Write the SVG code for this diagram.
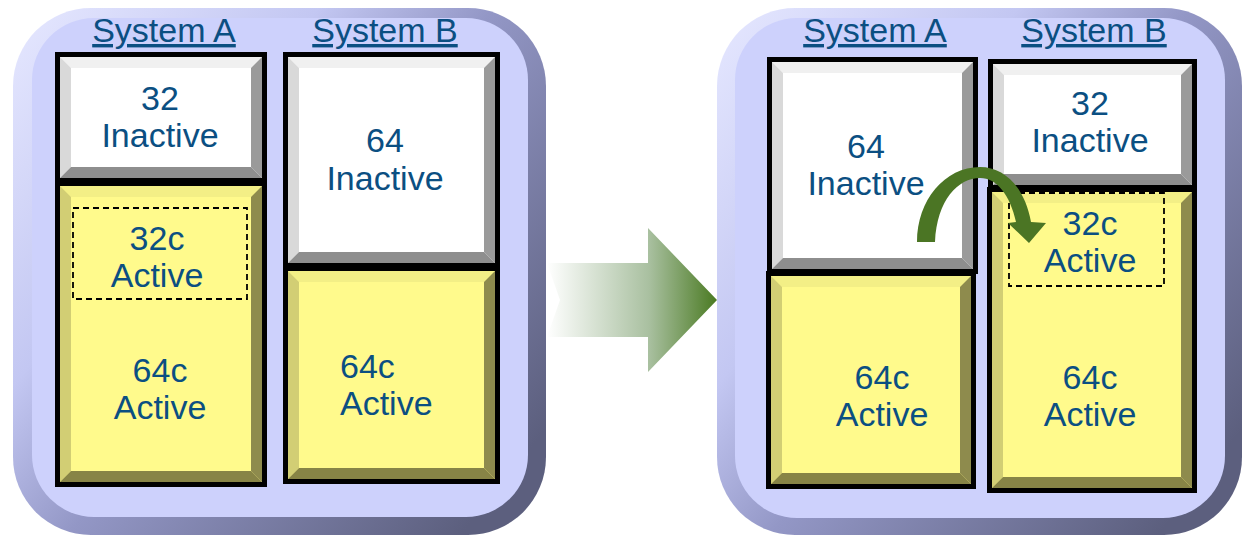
<svg xmlns="http://www.w3.org/2000/svg" width="1247" height="539" viewBox="0 0 1247 539">
  <defs>
    <linearGradient id="rimGrad" x1="0" y1="0" x2="1" y2="0.8">
      <stop offset="0" stop-color="#e6e8ff"/>
      <stop offset="0.35" stop-color="#c3c7f2"/>
      <stop offset="0.55" stop-color="#9397c6"/>
      <stop offset="1" stop-color="#5c5f7e"/>
    </linearGradient>
    <linearGradient id="moveGrad" x1="547" y1="0" x2="717" y2="0" gradientUnits="userSpaceOnUse">
      <stop offset="0" stop-color="#ffffff"/>
      <stop offset="0.6" stop-color="#a9c0a0"/>
      <stop offset="1" stop-color="#4a7a22"/>
    </linearGradient>
    <style>
      .rim { fill: url(#rimGrad); }
      .face { fill: #cdd1fc; }
      .frame { fill: #000000; }
      .w-face { fill: #ffffff; }
      .w-top { fill: #f0f0f0; }
      .w-left { fill: #d9d9d9; }
      .w-right { fill: #9a9a9a; }
      .w-bottom { fill: #8e8e8e; }
      .y-face { fill: #fffa8c; }
      .y-top { fill: #f3ef86; }
      .y-left { fill: #d2ce74; }
      .y-right { fill: #8e8b4d; }
      .y-bottom { fill: #878446; }
      .dash { fill: none; stroke: #000000; stroke-width: 1.8; stroke-dasharray: 6 4; }
      .lbl { font-family: "Liberation Sans", Arial, sans-serif; font-size: 34px; fill: #0b4f82; text-anchor: middle; }
      .lbl-start { text-anchor: start; }
      .hdr { text-decoration: underline; }
    </style>
  </defs>

  <!-- panels -->
  <g id="panel-before">
    <rect class="rim" x="13" y="8" width="533" height="527" rx="78" ry="78"/>
    <rect class="face" x="32" y="18" width="496" height="499" rx="62" ry="62"/>
  </g>
  <g id="panel-after">
    <rect class="rim" x="717" y="8" width="525" height="527" rx="78" ry="78"/>
    <rect class="face" x="735" y="18" width="490" height="500" rx="62" ry="62"/>
  </g>

  <!-- column headers -->
  <g id="headers">
    <text class="lbl hdr" x="164" y="42">System A</text>
    <text class="lbl hdr" x="385" y="42">System B</text>
    <text class="lbl hdr" x="875" y="42">System A</text>
    <text class="lbl hdr" x="1094" y="42">System B</text>
  </g>

  <!-- before: System A, 64c active partition -->
  <g id="before-a-64c">
    <rect class="frame" x="55" y="181" width="212" height="306"/>
    <rect class="y-face" x="60" y="186" width="202" height="296"/>
    <polygon class="y-top" points="60,186 262,186 251,197 71,197"/>
    <polygon class="y-left" points="60,186 71,197 71,471 60,482"/>
    <polygon class="y-right" points="262,186 262,482 251,471 251,197"/>
    <polygon class="y-bottom" points="60,482 262,482 251,471 71,471"/>
    <text class="lbl" x="160" y="382">64c</text>
    <text class="lbl" x="160" y="419">Active</text>
  </g>
  <g id="before-a-32c">
    <rect class="dash" x="73" y="208" width="174" height="91"/>
    <text class="lbl" x="157" y="250">32c</text>
    <text class="lbl" x="157" y="287">Active</text>
  </g>
  <g id="before-a-32">
    <rect class="frame" x="55" y="52" width="212" height="131"/>
    <rect class="w-face" x="60" y="57" width="202" height="121"/>
    <polygon class="w-top" points="60,57 262,57 251,68 71,68"/>
    <polygon class="w-left" points="60,57 71,68 71,167 60,178"/>
    <polygon class="w-right" points="262,57 262,178 251,167 251,68"/>
    <polygon class="w-bottom" points="60,178 262,178 251,167 71,167"/>
    <text class="lbl" x="160" y="110">32</text>
    <text class="lbl" x="160" y="147">Inactive</text>
  </g>

  <!-- before: System B -->
  <g id="before-b-64c">
    <rect class="frame" x="283" y="266" width="217" height="218"/>
    <rect class="y-face" x="288" y="271" width="207" height="208"/>
    <polygon class="y-top" points="288,271 495,271 484,282 299,282"/>
    <polygon class="y-left" points="288,271 299,282 299,468 288,479"/>
    <polygon class="y-right" points="495,271 495,479 484,468 484,282"/>
    <polygon class="y-bottom" points="288,479 495,479 484,468 299,468"/>
    <text class="lbl lbl-start" x="340" y="378">64c</text>
    <text class="lbl lbl-start" x="340" y="415">Active</text>
  </g>
  <g id="before-b-64">
    <rect class="frame" x="283" y="52" width="217" height="216"/>
    <rect class="w-face" x="288" y="57" width="207" height="206"/>
    <polygon class="w-top" points="288,57 495,57 484,68 299,68"/>
    <polygon class="w-left" points="288,57 299,68 299,252 288,263"/>
    <polygon class="w-right" points="495,57 495,263 484,252 484,68"/>
    <polygon class="w-bottom" points="288,263 495,263 484,252 299,252"/>
    <text class="lbl" x="385" y="152">64</text>
    <text class="lbl" x="385" y="190">Inactive</text>
  </g>

  <!-- after: System A -->
  <g id="after-a-64c">
    <rect class="frame" x="766" y="271" width="210" height="218"/>
    <rect class="y-face" x="771" y="276" width="200" height="208"/>
    <polygon class="y-top" points="771,276 971,276 960,287 782,287"/>
    <polygon class="y-left" points="771,276 782,287 782,473 771,484"/>
    <polygon class="y-right" points="971,276 971,484 960,473 960,287"/>
    <polygon class="y-bottom" points="771,484 971,484 960,473 782,473"/>
    <text class="lbl" x="882" y="389">64c</text>
    <text class="lbl" x="882" y="426">Active</text>
  </g>
  <g id="after-a-64">
    <rect class="frame" x="767" y="57" width="211" height="217"/>
    <rect class="w-face" x="772" y="62" width="201" height="207"/>
    <polygon class="w-top" points="772,62 973,62 962,73 783,73"/>
    <polygon class="w-left" points="772,62 783,73 783,258 772,269"/>
    <polygon class="w-right" points="973,62 973,269 962,258 962,73"/>
    <polygon class="w-bottom" points="772,269 973,269 962,258 783,258"/>
    <text class="lbl" x="866" y="158">64</text>
    <text class="lbl" x="866" y="195">Inactive</text>
  </g>

  <!-- after: System B -->
  <g id="after-b-64c">
    <rect class="frame" x="987" y="187" width="210" height="306"/>
    <rect class="y-face" x="992" y="192" width="200" height="296"/>
    <polygon class="y-top" points="992,192 1192,192 1181,203 1003,203"/>
    <polygon class="y-left" points="992,192 1003,203 1003,477 992,488"/>
    <polygon class="y-right" points="1192,192 1192,488 1181,477 1181,203"/>
    <polygon class="y-bottom" points="992,488 1192,488 1181,477 1003,477"/>
    <text class="lbl" x="1090" y="389">64c</text>
    <text class="lbl" x="1090" y="426">Active</text>
  </g>
  <g id="after-b-32c">
    <rect class="dash" x="1009" y="193" width="155" height="93"/>
    <text class="lbl" x="1090" y="235">32c</text>
    <text class="lbl" x="1090" y="272">Active</text>
  </g>
  <g id="after-b-32">
    <rect class="frame" x="988" y="59" width="209" height="131"/>
    <rect class="w-face" x="993" y="64" width="199" height="121"/>
    <polygon class="w-top" points="993,64 1192,64 1181,75 1004,75"/>
    <polygon class="w-left" points="993,64 1004,75 1004,174 993,185"/>
    <polygon class="w-right" points="1192,64 1192,185 1181,174 1181,75"/>
    <polygon class="w-bottom" points="993,185 1192,185 1181,174 1004,174"/>
    <text class="lbl" x="1090" y="115">32</text>
    <text class="lbl" x="1090" y="152">Inactive</text>
  </g>

  <!-- connectors -->
  <g id="connectors">
    <path id="transition-arrow" fill="url(#moveGrad)" d="M547,263 L648,263 L648,228 L717,300 L648,372 L648,337 L547,337 L560,300 Z"/>
    <path id="move-arrow" fill="#4b7524" d="M917,242 C917,200 945,167 980,167 C1005,167 1025,188 1031,222 L1046,223 L1029,243 L1008,223 L1016,222 C1010,195 997,178 980,178 C958,178 937,200 935,242 Z"/>
  </g>
</svg>
